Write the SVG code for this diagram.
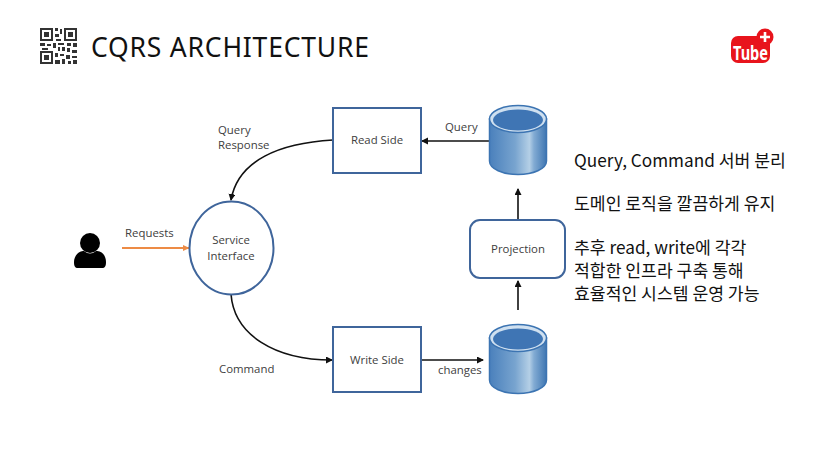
<svg xmlns="http://www.w3.org/2000/svg" width="821" height="449" viewBox="0 0 821 449">
<style>
text{font-family:"Noto Sans","Noto Sans CJK KR",sans-serif}
.l{font-size:11.4px;fill:#404040;font-family:"Open Sans","Noto Sans",sans-serif}
.k{font-size:17.2px;fill:#111;font-family:"Noto Sans CJK KR","Noto Sans",sans-serif}
.b{fill:#fff;stroke:#3f659b;stroke-width:2}
.c{fill:none;stroke:#111;stroke-width:1.6}
</style>
<defs>
<marker id="a" markerWidth="8" markerHeight="8" refX="6" refY="3.5" orient="auto" markerUnits="userSpaceOnUse"><path d="M0 0L7 3.500L0 7z" fill="#111"/></marker>
<marker id="o" markerWidth="8" markerHeight="8" refX="6" refY="3" orient="auto" markerUnits="userSpaceOnUse"><path d="M0 0L6.500 3L0 6z" fill="#ed8b45"/></marker>
<linearGradient id="cy" x1="0" x2="1" y1="0" y2="0"><stop offset="0" stop-color="#4a80bc"/><stop offset=".45" stop-color="#78a4cf"/><stop offset=".7" stop-color="#b4cfe6"/><stop offset=".78" stop-color="#82abd3"/><stop offset="1" stop-color="#3f76b2"/></linearGradient>
<g id="db">
<path d="M-28.500 -21V21C-28.500 29 -15 34.500 0 34.500S28.500 29 28.500 21V-21z" fill="url(#cy)" stroke="#3c74b2" stroke-width="1.500"/>
<ellipse cx="0" cy="-21" rx="28.500" ry="13.500" fill="#cfe0f0" stroke="#3c74b2" stroke-width="1.500"/>
<ellipse cx="0" cy="-20" rx="25" ry="10.500" fill="#3f75b4"/>
</g>
</defs>
<rect width="821" height="449" fill="#fff"/>
<g id="qr" fill="#333">
<path d="M40 28h13v13h-13zM42 30v9h9v-9zM44 32h5v5h-5zM64 28h13v13h-13zM66 30v9h9v-9zM68 32h5v5h-5zM40 51h13v13h-13zM42 53v9h9v-9zM44 55h5v5h-5z" fill-rule="evenodd"/>
<path d="M55 28h3v3h-3zM60 29h2v5h-2zM55 34h4v3h-4zM56 39h5v2h-5zM40 43h5v3h-5zM47 44h4v2h-4zM42 48h6v2h-6zM53 43h3v5h-3zM58 43h6v2h-6zM58 47h2v4h-2zM62 47h3v4h-3zM67 43h4v3h-4zM73 43h4v4h-4zM67 48h3v4h-3zM72 50h5v3h-5zM55 53h3v4h-3zM60 54h4v2h-4zM66 55h4v4h-4zM72 56h5v2h-5zM55 60h5v4h-5zM62 59h3v5h-3zM68 61h3v3h-3zM73 60h4v4h-4z"/>
</g>
<text x="91" y="57" font-size="26.500" letter-spacing=".8" fill="#111">CQRS ARCHITECTURE</text>
<g id="tube">
<rect x="731" y="36" width="39" height="27" rx="7" fill="#e8141c"/>
<circle cx="765" cy="37" r="8.500" fill="#e8141c"/>
<path d="M765 32v10M760 37h10" stroke="#fff" stroke-width="2.600"/>
<text x="733" y="60" font-family="Liberation Sans" font-weight="700" font-size="20" textLength="35" lengthAdjust="spacingAndGlyphs" fill="#fff">Tube</text>
</g>
<g id="connectors">
<path class="c" d="M333 140C280 143 238 160 231 200" marker-end="url(#a)"/>
<path class="c" d="M231 294C234 335 275 360 332 360" marker-end="url(#a)"/>
<path class="c" d="M489 141H422" marker-end="url(#a)"/>
<path class="c" d="M421 360H483" marker-end="url(#a)"/>
<path class="c" d="M518 310V281" marker-end="url(#a)"/>
<path class="c" d="M518 219V189" marker-end="url(#a)"/>
<path d="M122 248H189" fill="none" stroke="#ed8b45" stroke-width="2.200" marker-end="url(#o)"/>
</g>
<g id="user" fill="#000">
<circle cx="90" cy="243" r="10"/>
<path d="M74 262C74 256 79 250 84 251Q90 256 96 251C102 250 106 256 106 262C106 266 105 268 102 268H78C75 268 74 266 74 262z"/>
</g>
<g id="service"><ellipse class="b" cx="231.500" cy="248" rx="42" ry="46.500"/><text class="l" x="231" y="244" text-anchor="middle">Service</text><text class="l" x="231" y="260" text-anchor="middle">Interface</text></g>
<g id="read"><rect class="b" x="333" y="108" width="88" height="65"/><text class="l" x="377" y="144" text-anchor="middle">Read Side</text></g>
<g id="write"><rect class="b" x="333" y="327" width="88" height="65"/><text class="l" x="377" y="364" text-anchor="middle">Write Side</text></g>
<g id="projection"><rect class="b" x="470" y="220" width="95" height="58" rx="10"/><text class="l" x="518" y="253" text-anchor="middle">Projection</text></g>
<use id="db1" href="#db" x="518" y="140"/>
<use id="db2" href="#db" x="518" y="359"/>
<g id="labels">
<text class="l" x="218" y="134">Query</text><text class="l" x="218" y="149">Response</text>
<text class="l" x="125" y="237">Requests</text>
<text class="l" x="445" y="131">Query</text>
<text class="l" x="219" y="373">Command</text>
<text class="l" x="438" y="374">changes</text>
<text class="k" x="574" y="167">Query, Command 서버 분리</text>
<text class="k" x="574" y="210">도메인 로직을 깔끔하게 유지</text>
<text class="k" x="574" y="254">추후 read, write에 각각</text>
<text class="k" x="574" y="277">적합한 인프라 구축 통해</text>
<text class="k" x="574" y="300">효율적인 시스템 운영 가능</text>
</g>
</svg>
